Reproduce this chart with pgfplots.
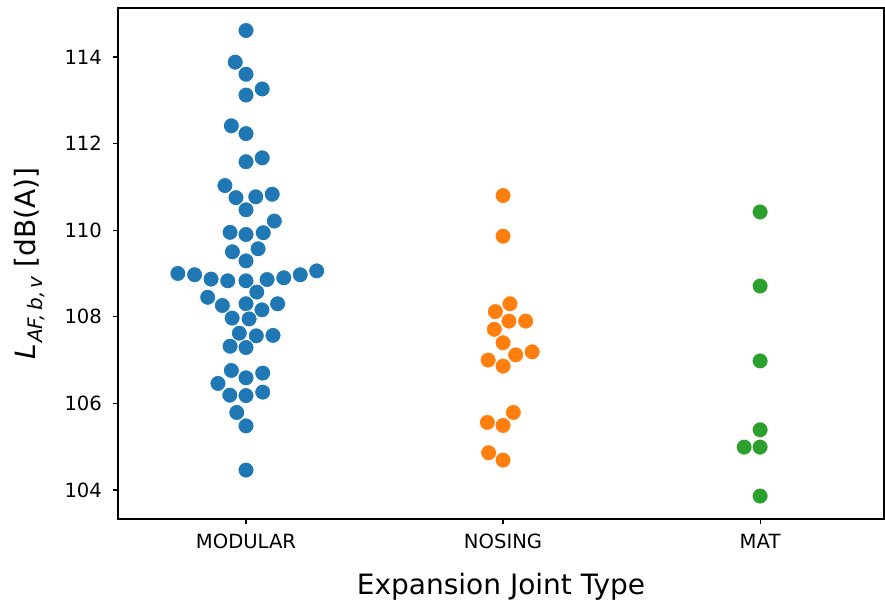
\documentclass[border=0pt]{standalone}
\usepackage{fontspec}
\setmainfont{DejaVu Sans}
\usepackage{pgfplots}
\pgfplotsset{compat=1.18}
\usetikzlibrary{calc}
\definecolor{cblue}{HTML}{1F77B4}
\definecolor{corange}{HTML}{FF7F0E}
\definecolor{cgreen}{HTML}{2CA02C}
\pgfplotstableread{
x y
0 114.61
-0.042 113.88
0 113.60
0.063 113.26
0 113.12
-0.057 112.41
0 112.23
0.063 111.67
0 111.58
-0.082 111.03
-0.039 110.75
0.038 110.77
0.102 110.83
0 110.47
0.110 110.21
-0.062 109.95
0 109.90
0.067 109.94
-0.053 109.50
0.047 109.57
0 109.29
-0.265 109.00
-0.200 108.97
-0.136 108.87
-0.071 108.83
0 108.83
0.082 108.86
0.147 108.90
0.211 108.97
0.275 109.06
0.042 108.57
-0.149 108.45
-0.092 108.26
0 108.30
0.062 108.16
0.123 108.30
-0.054 107.97
0.012 107.95
-0.026 107.62
0.040 107.56
0.105 107.57
-0.062 107.32
0 107.29
-0.057 106.76
0 106.59
0.065 106.70
-0.109 106.46
-0.063 106.19
0 106.18
0.065 106.26
-0.036 105.79
0 105.48
0 104.46
}\modular
\pgfplotstableread{
x y
1 110.80
1 109.86
1.027 108.30
0.970 108.12
1.023 107.90
1.088 107.90
0.966 107.71
1 107.40
1.049 107.12
1.113 107.19
0.942 107.00
1 106.86
1.040 105.79
0.939 105.56
1 105.49
0.944 104.86
1 104.69
}\nosing
\pgfplotstableread{
x y
2 110.42
2 108.71
2 106.98
2 105.39
1.938 104.99
2 104.99
2 103.86
}\mat
\begin{document}
\begin{tikzpicture}
\begin{axis}[
  scale only axis,
  width=383pt, height=255.5pt,
  xmin=-0.498, xmax=2.482, ymin=103.33, ymax=115.13,
  xtick={0,1,2}, xticklabels={MODULAR,NOSING,MAT},
  ytick={104,106,108,110,112,114},
  tick pos=left, tick align=outside,
  major tick length=2.5pt,
  every tick/.style={black, line width=0.6pt},
  axis line style={line width=0.6pt},
  /pgf/number format/assume math mode=true,
  ticklabel style={font=\fontsize{9.8}{11}\selectfont},
  yticklabel style={xshift=-2pt},
  xticklabel style={yshift=-1.5pt},
  xlabel={Expansion Joint Type},
  xlabel style={font=\fontsize{14}{16}\selectfont, at={(axis description cs:0.5,-0.133)}, anchor=center},
  ylabel={{\itshape L\kern0.03em\raisebox{-0.45ex}{\fontsize{10}{11}\selectfont AF,\,b,\,v}}\ [dB(A)]},
  ylabel style={font=\fontsize{14}{16}\selectfont, at={(axis description cs:-0.115,0.5)}, anchor=center},
  only marks,
]
\addplot[mark=*, mark size=4pt, mark options={fill=cblue, draw=white, line width=0.4pt}] table[x=x,y=y] {\modular};
\addplot[mark=*, mark size=4pt, mark options={fill=corange, draw=white, line width=0.4pt}] table[x=x,y=y] {\nosing};
\addplot[mark=*, mark size=4pt, mark options={fill=cgreen, draw=white, line width=0.4pt}] table[x=x,y=y] {\mat};
\coordinate (bl) at (rel axis cs:0,0);
\coordinate (tr) at (rel axis cs:1,1);
\end{axis}
\pgfresetboundingbox
\path[use as bounding box] ($(bl)+(-59pt,-41pt)$) rectangle ($(tr)+(0.5pt,4pt)$);
\end{tikzpicture}
\end{document}
